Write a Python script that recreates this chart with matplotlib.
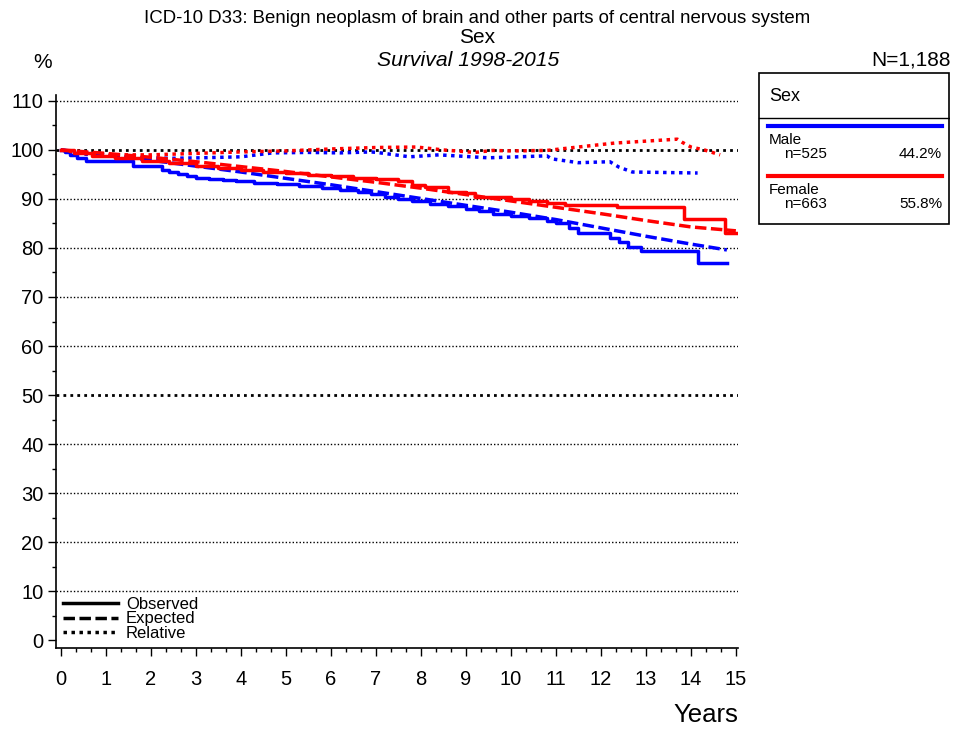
import matplotlib.pyplot as plt
from matplotlib.lines import Line2D
from matplotlib.patches import Rectangle
import numpy as np

plt.rcParams['font.family'] = ['Liberation Sans', 'DejaVu Sans']

# --- dati ---
# Maschi, sopravvivenza osservata (a gradini)
t_maschi_oss = [0, 0.1, 0.2, 0.35, 0.55, 1.6, 2.25, 2.4, 2.6, 2.8, 3.0, 3.3, 3.6, 3.9, 4.3, 4.8, 5.3, 5.8,
                6.2, 6.6, 6.9, 7.2, 7.5, 7.8, 8.2, 8.6, 9.0, 9.3, 9.6, 10.0, 10.4, 10.8, 11.0, 11.3, 11.5,
                12.2, 12.4, 12.6, 12.9, 14.15, 14.8]
v_maschi_oss = [100, 99.5, 99.0, 98.4, 97.8, 96.8, 96.0, 95.5, 95.0, 94.6, 94.3, 94.0, 93.8, 93.6, 93.3,
                93.0, 92.7, 92.3, 91.9, 91.5, 91.0, 90.5, 90.0, 89.5, 89.0, 88.5, 88.0, 87.5, 87.0, 86.5,
                86.1, 85.6, 85.0, 84.0, 83.0, 82.0, 81.2, 80.3, 79.3, 77.0, 77.0]

# Maschi, attesa
t_maschi_att = [0, 1, 2, 3, 4, 5, 6, 7, 8, 9, 10, 11, 12, 13, 14, 14.8]
v_maschi_att = [100, 99.0, 97.9, 96.7, 95.5, 94.2, 92.9, 91.5, 90.1, 88.7, 87.3, 85.8, 84.1, 82.4, 80.8, 79.6]

# Maschi, relativa
t_maschi_rel = [0, 0.3, 0.64, 1, 1.75, 2.5, 3.1, 4, 4.7, 5.5, 6.2, 6.9, 7.1, 7.75, 8.4, 9.5, 10.8, 10.9,
                11.5, 12.2, 12.4, 12.7, 14.15]
v_maschi_rel = [100, 99.5, 99.0, 98.8, 98.4, 98.3, 98.4, 98.6, 99.4, 99.5, 99.4, 99.6, 99.4, 98.6, 99.0,
                98.4, 98.8, 98.2, 97.4, 97.6, 96.5, 95.5, 95.3]

# Femmine, osservata
t_femmine_oss = [0, 0.3, 0.7, 1.2, 1.8, 2.4, 3.0, 3.5, 4.0, 4.5, 5.0, 5.5, 6.0, 6.5, 7.0, 7.5, 7.8, 8.1,
                 8.6, 9.0, 9.2, 9.6, 10.0, 10.4, 10.8, 11.2, 12.35, 13.85, 14.75, 15.0]
v_femmine_oss = [100, 99.3, 98.8, 98.3, 97.8, 97.3, 96.8, 96.4, 96.0, 95.6, 95.2, 94.9, 94.6, 94.3, 94.0,
                 93.6, 92.9, 92.4, 91.5, 91.2, 90.5, 90.3, 90.0, 89.6, 89.2, 88.8, 88.4, 85.9, 83.1, 83.1]

# Femmine, attesa
t_femmine_att = [0, 1, 2, 3, 4, 5, 6, 7, 8, 9, 10, 11, 12, 13, 14, 15]
v_femmine_att = [100, 99.3, 98.5, 97.6, 96.6, 95.6, 94.5, 93.4, 92.2, 90.9, 89.6, 88.3, 87.0, 85.6, 84.3, 83.5]

# Femmine, relativa
t_femmine_rel = [0, 0.5, 1, 2, 3, 4, 5, 6, 7, 7.9, 8.5, 9.2, 9.6, 10, 10.8, 11.1, 11.7, 12.3, 13.0, 13.7,
                 13.8, 14.0, 14.3, 14.65]
v_femmine_rel = [100, 99.3, 99.0, 99.0, 99.3, 99.6, 99.8, 100.2, 100.5, 100.6, 100.0, 99.5, 99.9, 99.8,
                 99.9, 100.2, 100.8, 101.4, 101.8, 102.2, 101.6, 100.6, 100.0, 99.0]

gruppi = ["Male", "Female"]
numerosita = [525, 663]
percentuali = ["44.2%", "55.8%"]
colori = ["#0000ff", "#ff0000"]

BLU, ROSSO = colori
lw = 2.5
tratteggio = (0, (3.3, 1.3))
puntini = (0, (1, 1.3))

fig = plt.figure(figsize=(9.54, 7.29), dpi=100)
ax = fig.add_axes([0.0587, 0.111, 0.715, 0.7586])

# griglia orizzontale a puntini (50 e 100 piu' spesse)
for livello in range(10, 111, 10):
    spessore = 2.0 if livello in (50, 100) else 1.0
    ax.axhline(livello, color='black', linestyle=(0, (1, 1.5)), linewidth=spessore, zorder=1)

# curve
ax.plot(t_maschi_oss, v_maschi_oss, color=BLU, linewidth=lw, drawstyle='steps-post', zorder=3)
ax.plot(t_maschi_att, v_maschi_att, color=BLU, linewidth=lw, linestyle=tratteggio, zorder=3)
ax.plot(t_maschi_rel, v_maschi_rel, color=BLU, linewidth=lw, linestyle=puntini, zorder=3)
ax.plot(t_femmine_oss, v_femmine_oss, color=ROSSO, linewidth=lw, drawstyle='steps-post', zorder=4)
ax.plot(t_femmine_att, v_femmine_att, color=ROSSO, linewidth=lw, linestyle=tratteggio, zorder=4)
ax.plot(t_femmine_rel, v_femmine_rel, color=ROSSO, linewidth=lw, linestyle=puntini, zorder=4)

ax.set_xlim(-0.11, 15.05)
ax.set_ylim(-1.63, 111.2)
ax.set_xticks(range(0, 16))
ax.set_xticks(np.arange(0, 15.01, 1 / 3), minor=True)
ax.set_yticks(range(0, 111, 10))
ax.set_yticks(range(5, 111, 10), minor=True)
ax.tick_params(axis='both', which='major', labelsize=14.5, length=6, width=1, direction='out')
ax.tick_params(axis='both', which='minor', length=3, width=1, direction='out')
ax.tick_params(axis='x', pad=10)
ax.tick_params(axis='y', pad=3)
for lato in ['top', 'right']:
    ax.spines[lato].set_visible(False)
for lato in ['left', 'bottom']:
    ax.spines[lato].set_linewidth(1.2)

ax.set_xlabel("Years", fontsize=18.5, loc='right', labelpad=10)

# legenda stili linea (in basso a sinistra)
maniglie = [Line2D([], [], color='black', linewidth=lw),
            Line2D([], [], color='black', linewidth=lw, linestyle=tratteggio),
            Line2D([], [], color='black', linewidth=lw, linestyle=puntini)]
ax.legend(maniglie, ["Observed", "Expected", "Relative"], loc='lower left', frameon=False,
          fontsize=12, handlelength=3.3, handletextpad=0.45, labelspacing=-0.05,
          borderaxespad=0.25, borderpad=0.2)

# titoli
fig.text(0.5, 0.975, "ICD-10 D33: Benign neoplasm of brain and other parts of central nervous system",
         ha='center', va='center', fontsize=13.4)
fig.text(0.5, 0.948, "Sex", ha='center', va='center', fontsize=15)
fig.text(0.491, 0.917, "Survival 1998-2015", ha='center', va='center', fontsize=15.2, style='italic')
fig.text(0.045, 0.914, "%", ha='center', va='center', fontsize=15)
fig.text(0.997, 0.918, "N=1,188", ha='right', va='center', fontsize=15)

# riquadro legenda gruppi (coordinate in pixel del riquadro)
lg = fig.add_axes([0.7945, 0.6914, 0.2013, 0.2098])
lg.set_xlim(758, 950)
lg.set_ylim(225, 72)
lg.axis('off')
lg.add_patch(Rectangle((759, 73), 190, 151, fill=False, edgecolor='black', linewidth=1.2))
lg.plot([759, 949], [118, 118], color='black', linewidth=1)
lg.text(769, 96, "Sex", fontsize=13, va='center', ha='left')
for i, (nome, n, perc, col) in enumerate(zip(gruppi, numerosita, percentuali, colori)):
    y0 = 126 + i * 50
    lg.plot([768, 942], [y0, y0], color=col, linewidth=3)
    lg.text(769, y0 + 14, nome, fontsize=11, va='center', ha='left')
    lg.text(784, y0 + 28, "n=%d" % n, fontsize=11, va='center', ha='left')
    lg.text(942, y0 + 28, perc, fontsize=11, va='center', ha='right')

fig.savefig("out.png", dpi=100)
